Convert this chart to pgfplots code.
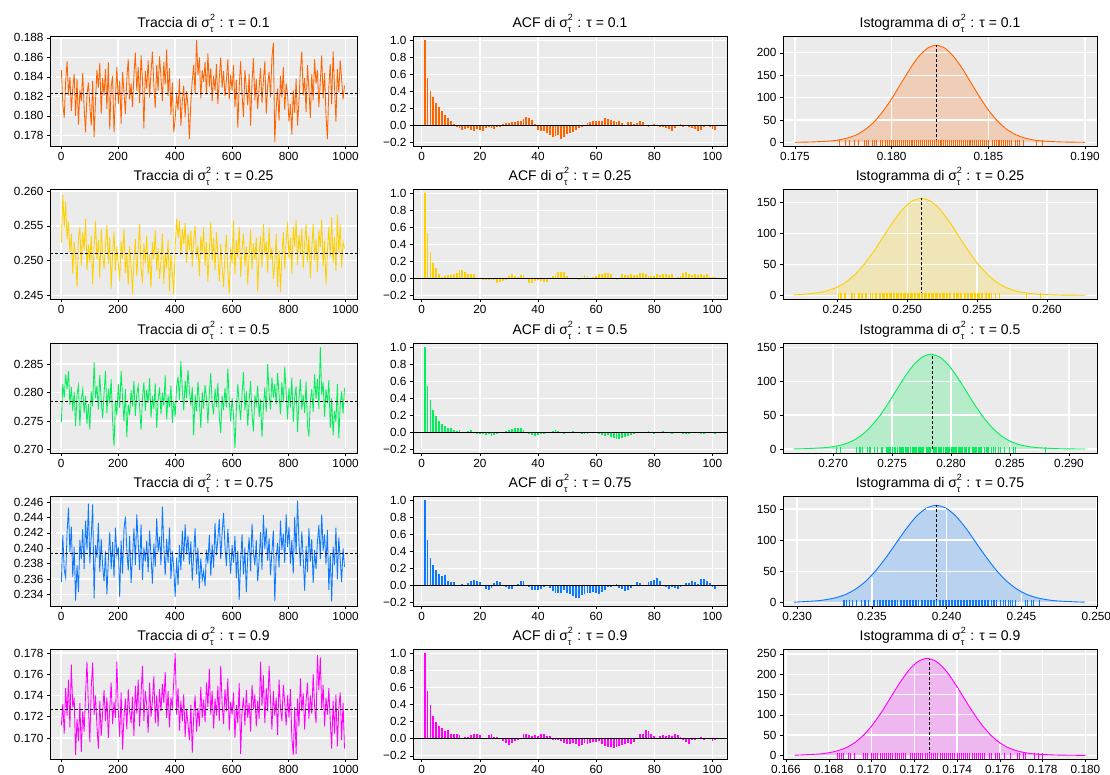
\documentclass[border=0pt]{standalone}
\usepackage{fontspec}
\setmainfont{Liberation Sans}
\usepackage{pgfplots}
\usepackage{pgfplotstable}
\pgfplotsset{compat=1.18}
\definecolor{bg}{HTML}{EBEBEB}
\definecolor{cO}{RGB}{255,100,0}
\definecolor{cY}{RGB}{255,208,0}
\definecolor{cG}{RGB}{0,240,90}
\definecolor{cB}{RGB}{10,120,255}
\definecolor{cM}{RGB}{255,0,255}
\newcommand{\sst}{σ\rlap{\raisebox{1ex}{\fontsize{9}{9}\selectfont 2}}\raisebox{-0.6ex}{\fontsize{9}{9}\selectfont τ}\hspace{2pt}}

% ---------- trace data (every 5th draw) ----------
\pgfplotstableread[row sep=\\]{
v\\
0.1847\\ 0.1812\\ 0.1798\\ 0.1835\\ 0.1856\\ 0.1821\\ 0.1840\\ 0.1805\\ 0.1829\\ 0.1843\\
0.1800\\ 0.1838\\ 0.1791\\ 0.1826\\ 0.1815\\ 0.1844\\ 0.1808\\ 0.1783\\ 0.1822\\ 0.1834\\
0.1811\\ 0.1790\\ 0.1836\\ 0.1778\\ 0.1816\\ 0.1847\\ 0.1829\\ 0.1854\\ 0.1802\\ 0.1839\\
0.1821\\ 0.1848\\ 0.1807\\ 0.1855\\ 0.1786\\ 0.1830\\ 0.1841\\ 0.1783\\ 0.1819\\ 0.1850\\
0.1812\\ 0.1836\\ 0.1792\\ 0.1845\\ 0.1824\\ 0.1802\\ 0.1838\\ 0.1858\\ 0.1817\\ 0.1833\\
0.1809\\ 0.1842\\ 0.1865\\ 0.1826\\ 0.1850\\ 0.1813\\ 0.1862\\ 0.1838\\ 0.1787\\ 0.1846\\
0.1828\\ 0.1857\\ 0.1819\\ 0.1845\\ 0.1866\\ 0.1831\\ 0.1808\\ 0.1852\\ 0.1826\\ 0.1861\\
0.1840\\ 0.1815\\ 0.1855\\ 0.1832\\ 0.1868\\ 0.1820\\ 0.1849\\ 0.1801\\ 0.1834\\ 0.1783\\
0.1797\\ 0.1822\\ 0.1806\\ 0.1838\\ 0.1790\\ 0.1815\\ 0.1831\\ 0.1799\\ 0.1825\\ 0.1810\\
0.1776\\ 0.1814\\ 0.1836\\ 0.1852\\ 0.1823\\ 0.1878\\ 0.1842\\ 0.1860\\ 0.1818\\ 0.1847\\
0.1835\\ 0.1855\\ 0.1822\\ 0.1864\\ 0.1830\\ 0.1849\\ 0.1815\\ 0.1841\\ 0.1826\\ 0.1853\\
0.1812\\ 0.1838\\ 0.1860\\ 0.1829\\ 0.1846\\ 0.1820\\ 0.1836\\ 0.1858\\ 0.1817\\ 0.1842\\
0.1826\\ 0.1852\\ 0.1809\\ 0.1837\\ 0.1788\\ 0.1830\\ 0.1856\\ 0.1822\\ 0.1799\\ 0.1847\\
0.1828\\ 0.1811\\ 0.1843\\ 0.1790\\ 0.1834\\ 0.1859\\ 0.1816\\ 0.1838\\ 0.1807\\ 0.1829\\
0.1849\\ 0.1813\\ 0.1836\\ 0.1856\\ 0.1802\\ 0.1831\\ 0.1845\\ 0.1819\\ 0.1860\\ 0.1875\\
0.1773\\ 0.1808\\ 0.1828\\ 0.1795\\ 0.1841\\ 0.1819\\ 0.1850\\ 0.1806\\ 0.1833\\ 0.1822\\
0.1794\\ 0.1812\\ 0.1781\\ 0.1826\\ 0.1803\\ 0.1838\\ 0.1790\\ 0.1815\\ 0.1847\\ 0.1866\\
0.1821\\ 0.1839\\ 0.1804\\ 0.1852\\ 0.1827\\ 0.1798\\ 0.1843\\ 0.1816\\ 0.1858\\ 0.1833\\
0.1847\\ 0.1809\\ 0.1835\\ 0.1862\\ 0.1818\\ 0.1844\\ 0.1801\\ 0.1776\\ 0.1829\\ 0.1853\\
0.1812\\ 0.1866\\ 0.1830\\ 0.1794\\ 0.1848\\ 0.1824\\ 0.1857\\ 0.1838\\ 0.1817\\ 0.1831\\
}\tA
\pgfplotstableread[row sep=\\]{
v\\
0.2526\\ 0.2595\\ 0.2548\\ 0.2585\\ 0.2531\\ 0.2556\\ 0.2512\\ 0.2538\\ 0.2481\\ 0.2527\\
0.2505\\ 0.2462\\ 0.2530\\ 0.2548\\ 0.2493\\ 0.2541\\ 0.2515\\ 0.2560\\ 0.2486\\ 0.2523\\
0.2498\\ 0.2536\\ 0.2466\\ 0.2519\\ 0.2557\\ 0.2502\\ 0.2530\\ 0.2475\\ 0.2546\\ 0.2511\\
0.2488\\ 0.2523\\ 0.2551\\ 0.2496\\ 0.2534\\ 0.2460\\ 0.2509\\ 0.2542\\ 0.2485\\ 0.2520\\
0.2495\\ 0.2471\\ 0.2528\\ 0.2503\\ 0.2546\\ 0.2482\\ 0.2510\\ 0.2465\\ 0.2521\\ 0.2493\\
0.2452\\ 0.2500\\ 0.2531\\ 0.2478\\ 0.2514\\ 0.2553\\ 0.2490\\ 0.2468\\ 0.2525\\ 0.2497\\
0.2536\\ 0.2481\\ 0.2509\\ 0.2461\\ 0.2527\\ 0.2502\\ 0.2544\\ 0.2486\\ 0.2518\\ 0.2474\\
0.2499\\ 0.2539\\ 0.2467\\ 0.2512\\ 0.2489\\ 0.2530\\ 0.2456\\ 0.2508\\ 0.2483\\ 0.2451\\
0.2520\\ 0.2560\\ 0.2533\\ 0.2557\\ 0.2508\\ 0.2546\\ 0.2524\\ 0.2554\\ 0.2497\\ 0.2538\\
0.2515\\ 0.2543\\ 0.2491\\ 0.2529\\ 0.2550\\ 0.2504\\ 0.2522\\ 0.2478\\ 0.2535\\ 0.2511\\
0.2548\\ 0.2493\\ 0.2527\\ 0.2470\\ 0.2515\\ 0.2556\\ 0.2499\\ 0.2533\\ 0.2486\\ 0.2541\\
0.2507\\ 0.2470\\ 0.2524\\ 0.2489\\ 0.2462\\ 0.2510\\ 0.2537\\ 0.2484\\ 0.2453\\ 0.2519\\
0.2496\\ 0.2558\\ 0.2480\\ 0.2529\\ 0.2505\\ 0.2549\\ 0.2477\\ 0.2516\\ 0.2539\\ 0.2492\\
0.2520\\ 0.2466\\ 0.2508\\ 0.2545\\ 0.2487\\ 0.2525\\ 0.2501\\ 0.2534\\ 0.2456\\ 0.2512\\
0.2535\\ 0.2490\\ 0.2553\\ 0.2509\\ 0.2528\\ 0.2483\\ 0.2547\\ 0.2502\\ 0.2519\\ 0.2474\\
0.2496\\ 0.2538\\ 0.2462\\ 0.2515\\ 0.2455\\ 0.2506\\ 0.2541\\ 0.2488\\ 0.2527\\ 0.2556\\
0.2503\\ 0.2533\\ 0.2481\\ 0.2549\\ 0.2520\\ 0.2558\\ 0.2494\\ 0.2537\\ 0.2511\\ 0.2546\\
0.2489\\ 0.2525\\ 0.2552\\ 0.2498\\ 0.2536\\ 0.2475\\ 0.2517\\ 0.2553\\ 0.2500\\ 0.2531\\
0.2484\\ 0.2544\\ 0.2519\\ 0.2559\\ 0.2492\\ 0.2528\\ 0.2466\\ 0.2513\\ 0.2549\\ 0.2505\\
0.2563\\ 0.2497\\ 0.2534\\ 0.2485\\ 0.2566\\ 0.2511\\ 0.2552\\ 0.2490\\ 0.2527\\ 0.2518\\
}\tB
\pgfplotstableread[row sep=\\]{
v\\
0.2748\\ 0.2815\\ 0.2791\\ 0.2832\\ 0.2806\\ 0.2838\\ 0.2779\\ 0.2810\\ 0.2768\\ 0.2801\\
0.2741\\ 0.2797\\ 0.2812\\ 0.2742\\ 0.2789\\ 0.2806\\ 0.2764\\ 0.2794\\ 0.2745\\ 0.2780\\
0.2735\\ 0.2802\\ 0.2776\\ 0.2853\\ 0.2790\\ 0.2812\\ 0.2770\\ 0.2831\\ 0.2785\\ 0.2755\\
0.2799\\ 0.2838\\ 0.2764\\ 0.2807\\ 0.2781\\ 0.2823\\ 0.2752\\ 0.2706\\ 0.2786\\ 0.2760\\
0.2815\\ 0.2773\\ 0.2838\\ 0.2791\\ 0.2749\\ 0.2806\\ 0.2722\\ 0.2779\\ 0.2761\\ 0.2804\\
0.2776\\ 0.2820\\ 0.2759\\ 0.2797\\ 0.2812\\ 0.2773\\ 0.2735\\ 0.2791\\ 0.2818\\ 0.2768\\
0.2805\\ 0.2782\\ 0.2825\\ 0.2756\\ 0.2794\\ 0.2771\\ 0.2816\\ 0.2738\\ 0.2788\\ 0.2809\\
0.2762\\ 0.2800\\ 0.2777\\ 0.2830\\ 0.2753\\ 0.2795\\ 0.2774\\ 0.2812\\ 0.2747\\ 0.2786\\
0.2758\\ 0.2810\\ 0.2828\\ 0.2787\\ 0.2855\\ 0.2804\\ 0.2769\\ 0.2821\\ 0.2790\\ 0.2840\\
0.2803\\ 0.2777\\ 0.2810\\ 0.2725\\ 0.2796\\ 0.2767\\ 0.2819\\ 0.2785\\ 0.2738\\ 0.2801\\
0.2772\\ 0.2813\\ 0.2790\\ 0.2746\\ 0.2798\\ 0.2834\\ 0.2781\\ 0.2762\\ 0.2807\\ 0.2775\\
0.2816\\ 0.2758\\ 0.2729\\ 0.2794\\ 0.2769\\ 0.2808\\ 0.2774\\ 0.2842\\ 0.2785\\ 0.2750\\
0.2790\\ 0.2760\\ 0.2703\\ 0.2771\\ 0.2815\\ 0.2780\\ 0.2752\\ 0.2797\\ 0.2836\\ 0.2769\\
0.2802\\ 0.2741\\ 0.2786\\ 0.2820\\ 0.2763\\ 0.2732\\ 0.2795\\ 0.2779\\ 0.2812\\ 0.2757\\
0.2788\\ 0.2722\\ 0.2773\\ 0.2809\\ 0.2766\\ 0.2850\\ 0.2798\\ 0.2770\\ 0.2826\\ 0.2791\\
0.2815\\ 0.2779\\ 0.2834\\ 0.2796\\ 0.2762\\ 0.2818\\ 0.2783\\ 0.2845\\ 0.2799\\ 0.2753\\
0.2808\\ 0.2774\\ 0.2826\\ 0.2748\\ 0.2792\\ 0.2811\\ 0.2731\\ 0.2787\\ 0.2823\\ 0.2770\\
0.2796\\ 0.2764\\ 0.2819\\ 0.2742\\ 0.2723\\ 0.2785\\ 0.2806\\ 0.2766\\ 0.2832\\ 0.2789\\
0.2824\\ 0.2771\\ 0.2880\\ 0.2796\\ 0.2818\\ 0.2758\\ 0.2806\\ 0.2781\\ 0.2822\\ 0.2738\\
0.2790\\ 0.2725\\ 0.2768\\ 0.2748\\ 0.2815\\ 0.2720\\ 0.2777\\ 0.2802\\ 0.2763\\ 0.2808\\
}\tC
\pgfplotstableread[row sep=\\]{
v\\
0.2356\\ 0.2417\\ 0.2372\\ 0.2362\\ 0.2420\\ 0.2453\\ 0.2395\\ 0.2428\\ 0.2363\\ 0.2402\\
0.2332\\ 0.2378\\ 0.2343\\ 0.2411\\ 0.2386\\ 0.2425\\ 0.2373\\ 0.2436\\ 0.2398\\ 0.2458\\
0.2380\\ 0.2416\\ 0.2457\\ 0.2335\\ 0.2404\\ 0.2388\\ 0.2433\\ 0.2369\\ 0.2412\\ 0.2377\\
0.2357\\ 0.2396\\ 0.2340\\ 0.2385\\ 0.2421\\ 0.2373\\ 0.2408\\ 0.2362\\ 0.2427\\ 0.2391\\
0.2402\\ 0.2337\\ 0.2410\\ 0.2367\\ 0.2425\\ 0.2441\\ 0.2398\\ 0.2371\\ 0.2416\\ 0.2355\\
0.2389\\ 0.2426\\ 0.2378\\ 0.2444\\ 0.2407\\ 0.2372\\ 0.2431\\ 0.2359\\ 0.2401\\ 0.2383\\
0.2410\\ 0.2369\\ 0.2423\\ 0.2390\\ 0.2354\\ 0.2406\\ 0.2376\\ 0.2439\\ 0.2395\\ 0.2415\\
0.2378\\ 0.2454\\ 0.2403\\ 0.2365\\ 0.2412\\ 0.2381\\ 0.2427\\ 0.2360\\ 0.2396\\ 0.2374\\
0.2337\\ 0.2388\\ 0.2352\\ 0.2404\\ 0.2372\\ 0.2423\\ 0.2383\\ 0.2431\\ 0.2392\\ 0.2416\\
0.2379\\ 0.2409\\ 0.2358\\ 0.2393\\ 0.2426\\ 0.2366\\ 0.2401\\ 0.2348\\ 0.2387\\ 0.2359\\
0.2370\\ 0.2351\\ 0.2398\\ 0.2380\\ 0.2417\\ 0.2364\\ 0.2405\\ 0.2375\\ 0.2433\\ 0.2391\\
0.2412\\ 0.2438\\ 0.2386\\ 0.2420\\ 0.2446\\ 0.2402\\ 0.2377\\ 0.2425\\ 0.2395\\ 0.2367\\
0.2404\\ 0.2381\\ 0.2416\\ 0.2361\\ 0.2397\\ 0.2333\\ 0.2383\\ 0.2418\\ 0.2366\\ 0.2401\\
0.2343\\ 0.2390\\ 0.2414\\ 0.2370\\ 0.2432\\ 0.2395\\ 0.2378\\ 0.2411\\ 0.2357\\ 0.2385\\
0.2421\\ 0.2372\\ 0.2443\\ 0.2399\\ 0.2427\\ 0.2384\\ 0.2413\\ 0.2365\\ 0.2396\\ 0.2423\\
0.2331\\ 0.2389\\ 0.2407\\ 0.2375\\ 0.2436\\ 0.2398\\ 0.2419\\ 0.2381\\ 0.2444\\ 0.2402\\
0.2428\\ 0.2380\\ 0.2411\\ 0.2367\\ 0.2441\\ 0.2393\\ 0.2462\\ 0.2408\\ 0.2377\\ 0.2422\\
0.2388\\ 0.2345\\ 0.2403\\ 0.2369\\ 0.2426\\ 0.2383\\ 0.2412\\ 0.2355\\ 0.2398\\ 0.2373\\
0.2409\\ 0.2430\\ 0.2386\\ 0.2444\\ 0.2397\\ 0.2418\\ 0.2379\\ 0.2424\\ 0.2346\\ 0.2392\\
0.2331\\ 0.2402\\ 0.2378\\ 0.2427\\ 0.2360\\ 0.2414\\ 0.2385\\ 0.2356\\ 0.2400\\ 0.2376\\
}\tD
\pgfplotstableread[row sep=\\]{
v\\
0.1712\\ 0.1732\\ 0.1704\\ 0.1747\\ 0.1721\\ 0.1755\\ 0.1710\\ 0.1769\\ 0.1729\\ 0.1738\\
0.1684\\ 0.1718\\ 0.1697\\ 0.1733\\ 0.1687\\ 0.1725\\ 0.1706\\ 0.1741\\ 0.1772\\ 0.1730\\
0.1696\\ 0.1748\\ 0.1771\\ 0.1722\\ 0.1740\\ 0.1711\\ 0.1690\\ 0.1735\\ 0.1702\\ 0.1724\\
0.1745\\ 0.1716\\ 0.1738\\ 0.1700\\ 0.1728\\ 0.1752\\ 0.1713\\ 0.1734\\ 0.1719\\ 0.1772\\
0.1726\\ 0.1701\\ 0.1743\\ 0.1689\\ 0.1720\\ 0.1737\\ 0.1708\\ 0.1746\\ 0.1725\\ 0.1714\\
0.1739\\ 0.1702\\ 0.1749\\ 0.1723\\ 0.1755\\ 0.1711\\ 0.1741\\ 0.1768\\ 0.1716\\ 0.1744\\
0.1731\\ 0.1705\\ 0.1752\\ 0.1720\\ 0.1735\\ 0.1758\\ 0.1714\\ 0.1740\\ 0.1711\\ 0.1746\\
0.1725\\ 0.1751\\ 0.1733\\ 0.1762\\ 0.1719\\ 0.1744\\ 0.1710\\ 0.1738\\ 0.1729\\ 0.1753\\
0.1780\\ 0.1722\\ 0.1747\\ 0.1707\\ 0.1735\\ 0.1716\\ 0.1741\\ 0.1701\\ 0.1727\\ 0.1713\\
0.1698\\ 0.1731\\ 0.1686\\ 0.1720\\ 0.1740\\ 0.1706\\ 0.1728\\ 0.1711\\ 0.1748\\ 0.1719\\
0.1736\\ 0.1715\\ 0.1752\\ 0.1729\\ 0.1765\\ 0.1722\\ 0.1744\\ 0.1709\\ 0.1737\\ 0.1721\\
0.1749\\ 0.1716\\ 0.1768\\ 0.1732\\ 0.1713\\ 0.1746\\ 0.1725\\ 0.1756\\ 0.1707\\ 0.1734\\
0.1722\\ 0.1743\\ 0.1700\\ 0.1731\\ 0.1714\\ 0.1752\\ 0.1685\\ 0.1726\\ 0.1738\\ 0.1712\\
0.1745\\ 0.1719\\ 0.1733\\ 0.1706\\ 0.1750\\ 0.1727\\ 0.1741\\ 0.1711\\ 0.1735\\ 0.1718\\
0.1772\\ 0.1730\\ 0.1759\\ 0.1714\\ 0.1747\\ 0.1725\\ 0.1768\\ 0.1736\\ 0.1708\\ 0.1744\\
0.1721\\ 0.1738\\ 0.1703\\ 0.1755\\ 0.1729\\ 0.1716\\ 0.1750\\ 0.1733\\ 0.1712\\ 0.1740\\
0.1719\\ 0.1746\\ 0.1700\\ 0.1684\\ 0.1729\\ 0.1685\\ 0.1737\\ 0.1711\\ 0.1756\\ 0.1725\\
0.1742\\ 0.1708\\ 0.1735\\ 0.1752\\ 0.1718\\ 0.1740\\ 0.1723\\ 0.1760\\ 0.1730\\ 0.1714\\
0.1778\\ 0.1745\\ 0.1776\\ 0.1727\\ 0.1750\\ 0.1711\\ 0.1738\\ 0.1722\\ 0.1747\\ 0.1716\\
0.1690\\ 0.1735\\ 0.1704\\ 0.1741\\ 0.1692\\ 0.1728\\ 0.1743\\ 0.1698\\ 0.1733\\ 0.1690\\
}\tE

% ---------- ACF data (lags 0..100) ----------
\pgfplotstableread[row sep=\\]{
v\\
1.00\\ 0.56\\ 0.40\\ 0.33\\ 0.27\\ 0.22\\ 0.17\\ 0.12\\ 0.09\\ 0.05\\ 0.02\\
-0.01\\ -0.03\\ -0.05\\ -0.04\\ -0.03\\ -0.05\\ -0.06\\ -0.04\\ -0.05\\ -0.06\\
-0.03\\ -0.02\\ -0.03\\ -0.04\\ -0.02\\ -0.01\\ 0.02\\ 0.03\\ 0.03\\ 0.04\\
0.04\\ 0.06\\ 0.06\\ 0.08\\ 0.10\\ 0.09\\ 0.07\\ 0.02\\ -0.05\\ -0.06\\
-0.06\\ -0.09\\ -0.11\\ -0.13\\ -0.12\\ -0.11\\ -0.16\\ -0.13\\ -0.10\\ -0.09\\
-0.07\\ -0.05\\ -0.03\\ -0.02\\ 0.00\\ 0.03\\ 0.04\\ 0.05\\ 0.06\\ 0.05\\
0.05\\ 0.09\\ 0.08\\ 0.07\\ 0.06\\ 0.04\\ 0.05\\ 0.03\\ 0.01\\ 0.04\\
0.04\\ 0.02\\ 0.03\\ 0.05\\ 0.04\\ 0.00\\ -0.02\\ 0.01\\ 0.02\\ 0.01\\
-0.01\\ -0.02\\ -0.03\\ -0.04\\ -0.06\\ -0.03\\ 0.00\\ 0.02\\ -0.02\\ 0.00\\
-0.01\\ -0.03\\ -0.04\\ -0.06\\ -0.05\\ -0.02\\ 0.00\\ -0.02\\ -0.04\\ -0.05\\
}\aA
\pgfplotstableread[row sep=\\]{
v\\
1.00\\ 0.54\\ 0.31\\ 0.18\\ 0.13\\ 0.05\\ 0.02\\ 0.03\\ 0.04\\ 0.04\\ 0.06\\
0.07\\ 0.10\\ 0.10\\ 0.08\\ 0.05\\ 0.05\\ 0.06\\ 0.01\\ 0.00\\ -0.02\\
-0.02\\ -0.01\\ -0.01\\ -0.02\\ -0.05\\ -0.04\\ -0.03\\ -0.02\\ 0.03\\ 0.05\\
0.03\\ 0.02\\ 0.04\\ 0.04\\ 0.00\\ -0.05\\ -0.05\\ -0.03\\ -0.02\\ -0.03\\
-0.04\\ -0.04\\ 0.00\\ 0.03\\ 0.04\\ 0.08\\ 0.08\\ 0.08\\ 0.03\\ 0.01\\
0.00\\ 0.00\\ -0.02\\ 0.01\\ 0.04\\ 0.03\\ 0.00\\ 0.02\\ 0.03\\ 0.05\\
0.06\\ 0.07\\ 0.07\\ 0.05\\ 0.00\\ -0.01\\ 0.01\\ 0.05\\ 0.04\\ 0.04\\
0.05\\ 0.04\\ 0.04\\ 0.07\\ 0.07\\ 0.06\\ 0.03\\ 0.03\\ 0.03\\ 0.05\\
0.04\\ 0.06\\ 0.05\\ 0.04\\ 0.06\\ 0.01\\ 0.02\\ 0.03\\ 0.07\\ 0.08\\
0.06\\ 0.04\\ 0.05\\ 0.04\\ 0.05\\ 0.04\\ 0.06\\ 0.02\\ 0.02\\ 0.02\\
}\aB
\pgfplotstableread[row sep=\\]{
v\\
1.00\\ 0.55\\ 0.38\\ 0.27\\ 0.19\\ 0.14\\ 0.10\\ 0.08\\ 0.06\\ 0.05\\ 0.03\\
0.02\\ 0.03\\ 0.01\\ 0.00\\ 0.02\\ 0.03\\ 0.01\\ -0.01\\ -0.02\\ -0.02\\
-0.03\\ -0.02\\ -0.04\\ -0.03\\ -0.01\\ 0.00\\ 0.01\\ 0.02\\ 0.03\\ 0.04\\
0.05\\ 0.06\\ 0.05\\ 0.03\\ 0.01\\ -0.02\\ -0.03\\ -0.04\\ -0.03\\ -0.02\\
-0.01\\ 0.00\\ 0.01\\ 0.02\\ 0.03\\ 0.02\\ 0.01\\ -0.01\\ 0.00\\ 0.01\\
0.02\\ 0.01\\ 0.00\\ -0.01\\ -0.02\\ -0.01\\ 0.00\\ 0.01\\ 0.00\\ -0.02\\
-0.03\\ -0.04\\ -0.03\\ -0.05\\ -0.06\\ -0.07\\ -0.08\\ -0.06\\ -0.05\\ -0.04\\
-0.03\\ -0.01\\ 0.00\\ 0.01\\ 0.00\\ 0.01\\ 0.02\\ 0.00\\ -0.01\\ 0.00\\
0.01\\ 0.02\\ 0.01\\ 0.00\\ -0.01\\ 0.00\\ 0.01\\ 0.00\\ -0.01\\ -0.02\\
-0.01\\ 0.00\\ 0.01\\ 0.00\\ -0.01\\ -0.01\\ 0.00\\ 0.01\\ 0.00\\ -0.01\\
}\aC
\pgfplotstableread[row sep=\\]{
v\\
1.00\\ 0.54\\ 0.32\\ 0.24\\ 0.18\\ 0.14\\ 0.11\\ 0.13\\ 0.06\\ 0.04\\ 0.04\\
0.01\\ 0.01\\ 0.02\\ 0.01\\ 0.03\\ 0.06\\ 0.07\\ 0.05\\ 0.04\\ 0.00\\
-0.04\\ -0.05\\ -0.03\\ 0.03\\ 0.05\\ 0.04\\ 0.01\\ -0.01\\ -0.04\\ -0.04\\
0.01\\ 0.02\\ 0.05\\ 0.05\\ 0.00\\ -0.02\\ -0.05\\ -0.05\\ -0.05\\ -0.04\\
-0.01\\ 0.00\\ -0.03\\ -0.06\\ -0.08\\ -0.09\\ -0.09\\ -0.05\\ -0.08\\ -0.10\\
-0.12\\ -0.14\\ -0.14\\ -0.11\\ -0.10\\ -0.09\\ -0.09\\ -0.07\\ -0.08\\ -0.10\\
-0.07\\ -0.05\\ -0.01\\ -0.02\\ 0.00\\ 0.02\\ -0.03\\ -0.04\\ -0.06\\ -0.05\\
-0.03\\ 0.00\\ 0.04\\ 0.03\\ 0.01\\ 0.01\\ 0.04\\ 0.06\\ 0.07\\ 0.09\\
0.05\\ 0.00\\ -0.02\\ -0.04\\ -0.02\\ -0.03\\ -0.04\\ -0.02\\ 0.00\\ 0.03\\
0.03\\ 0.06\\ 0.04\\ 0.02\\ 0.08\\ 0.08\\ 0.06\\ 0.03\\ -0.02\\ -0.04\\
}\aD
\pgfplotstableread[row sep=\\]{
v\\
1.00\\ 0.56\\ 0.40\\ 0.27\\ 0.19\\ 0.15\\ 0.13\\ 0.09\\ 0.10\\ 0.06\\ 0.06\\
0.05\\ 0.04\\ 0.01\\ 0.02\\ 0.02\\ 0.04\\ 0.06\\ 0.05\\ 0.04\\ 0.01\\
0.01\\ 0.04\\ 0.05\\ 0.02\\ 0.02\\ 0.00\\ -0.03\\ -0.05\\ -0.07\\ -0.05\\
-0.03\\ -0.02\\ 0.00\\ 0.06\\ 0.06\\ 0.04\\ 0.03\\ 0.04\\ 0.03\\ 0.06\\
0.05\\ 0.03\\ 0.03\\ -0.01\\ -0.01\\ -0.02\\ -0.03\\ -0.05\\ -0.06\\ -0.06\\
-0.05\\ -0.06\\ -0.09\\ -0.07\\ -0.05\\ -0.06\\ -0.05\\ -0.04\\ -0.04\\ -0.03\\
-0.06\\ -0.09\\ -0.10\\ -0.10\\ -0.11\\ -0.10\\ -0.08\\ -0.07\\ -0.06\\ -0.05\\
-0.06\\ -0.04\\ 0.01\\ 0.06\\ 0.05\\ 0.10\\ 0.09\\ 0.06\\ 0.03\\ 0.01\\
0.03\\ 0.04\\ 0.03\\ 0.04\\ 0.03\\ 0.05\\ 0.04\\ 0.02\\ -0.01\\ -0.04\\
-0.06\\ -0.02\\ -0.01\\ 0.00\\ 0.02\\ -0.01\\ 0.01\\ 0.00\\ -0.03\\ -0.02\\
}\aE

\pgfplotsset{
  base/.style={scale only axis, height=110pt, anchor=south west,
    axis background/.style={fill=bg},
    xmajorgrids, ymajorgrids,
    major grid style={white, line width=1.3pt},
    axis line style={black, line width=0.8pt},
    every tick/.style={black, line width=0.5pt},
    tick align=outside, major tick length=3pt,
    xtick pos=left, ytick pos=left,
    tick label style={font=\fontsize{11.8}{13}\selectfont, inner sep=1pt},
    xticklabel style={yshift=-2.3pt},
    yticklabel style={xshift=-2.3pt},
    title style={font=\fontsize{14}{16}\selectfont, inner sep=1pt, yshift=-3.7pt},
  },
  tr/.style={base, width=307pt, xmin=-39, xmax=1040,
    xtick={0,200,400,600,800,1000}, xticklabels={0,200,400,600,800,1000}},
  ac/.style={base, width=314pt, xmin=-3, xmax=105, ymin=-0.238, ymax=1.05,
    xtick={0,20,40,60,80,100}, xticklabels={0,20,40,60,80,100},
    ytick={-0.2,0,0.2,0.4,0.6,0.8,1.0},
    yticklabels={−0.2,0.0,0.2,0.4,0.6,0.8,1.0}},
  hi/.style={base, width=314pt},
  trline/.style={line width=0.85pt},
  mline/.style={black, line width=0.7pt, dash pattern=on 3pt off 2pt},
  acbar/.style={ycomb, line width=1.9pt},
  zline/.style={black, line width=0.7pt},
  dens/.style={line width=0.9pt, smooth, tension=0.4},
  gv/.style={white, line width=1.3pt, ycomb},
  gh/.style={white, line width=1.3pt, unbounded coords=jump},
  rug/.style={only marks, mark=|, mark size=3pt, color=#1, mark options={draw=#1, line width=1pt}},
}

\begin{document}
\begin{tikzpicture}
\path[use as bounding box] (0,0) rectangle (1110pt,775pt);

% ================= ROW 1: tau = 0.1 =================
\begin{axis}[tr, at={(50pt,629pt)}, ymin=0.1769, ymax=0.1882,
  ytick={0.178,0.180,0.182,0.184,0.186,0.188},
  yticklabels={0.178,0.180,0.182,0.184,0.186,0.188},
  title={Traccia di \sst{} : τ = 0.1}]
\addplot[cO, trline] table[x expr=\coordindex*5+1, y=v] \tA;
\addplot[mline] coordinates {(-39,0.1823) (1040,0.1823)};
\end{axis}
\begin{axis}[ac, at={(413pt,629pt)}, title={ACF di \sst{} : τ = 0.1}]
\addplot[cO, acbar] table[x expr=\coordindex+1, y=v] \aA;
\addplot[zline] coordinates {(-3,0) (105,0)};
\end{axis}
\begin{axis}[hi, at={(783pt,629pt)}, xmin=0.17438, xmax=0.19062, ymin=-8.2, ymax=237.6,
  xtick={0.175,0.180,0.185,0.190}, xticklabels={0.175,0.180,0.185,0.190},
  ytick={0,50,100,150,200}, yticklabels={0,50,100,150,200},
  title={Istogramma di \sst{} : τ = 0.1}]
\addplot[cO, fill=cO!22!bg, dens] coordinates {(0.1750,0)(0.17593,0.9)(0.17684,3.0)(0.17730,5.6)(0.17775,10.0)(0.17821,17.4)(0.17866,29.4)(0.17912,46.9)(0.17957,70.5)(0.18003,99.3)(0.18048,131.6)(0.18094,163.8)(0.18139,191.5)(0.18185,210.3)(0.18230,217)(0.18276,210.3)(0.18321,191.5)(0.18367,163.8)(0.18412,131.6)(0.18458,99.3)(0.18503,70.5)(0.18549,46.9)(0.18594,29.4)(0.18640,17.4)(0.18685,10.0)(0.18731,5.6)(0.18776,3.0)(0.18867,0.9)(0.18958,0.2)(0.1900,0)};
\addplot[gv] coordinates {(0.180,95) (0.185,69)};
\addplot[gh] coordinates {(0.17926,50)(0.18534,50)(nan,nan)(0.18012,100)(0.18448,100)(nan,nan)(0.18082,150)(0.18378,150)(nan,nan)(0.18165,200)(0.18295,200)};
\addplot[rug=cO] table[x=v, y=v, y expr=-1.5] \tA;
\addplot[mline] coordinates {(0.1823,0) (0.1823,217)};
\end{axis}

% ================= ROW 2: tau = 0.25 =================
\begin{axis}[tr, at={(50pt,476pt)}, ymin=0.2445, ymax=0.2603,
  ytick={0.245,0.250,0.255,0.260}, yticklabels={0.245,0.250,0.255,0.260},
  title={Traccia di \sst{} : τ = 0.25}]
\addplot[cY, trline] table[x expr=\coordindex*5+1, y=v] \tB;
\addplot[mline] coordinates {(-39,0.2511) (1040,0.2511)};
\end{axis}
\begin{axis}[ac, at={(413pt,476pt)}, title={ACF di \sst{} : τ = 0.25}]
\addplot[cY, acbar] table[x expr=\coordindex+1, y=v] \aB;
\addplot[zline] coordinates {(-3,0) (105,0)};
\end{axis}
\begin{axis}[hi, at={(783pt,476pt)}, xmin=0.24111, xmax=0.26358, ymin=-6, ymax=172,
  xtick={0.245,0.250,0.255,0.260}, xticklabels={0.245,0.250,0.255,0.260},
  ytick={0,50,100,150}, yticklabels={0,50,100,150},
  title={Istogramma di \sst{} : τ = 0.25}]
\addplot[cY, fill=cY!22!bg, dens] coordinates {(0.2419,0.5)(0.2429,2.2)(0.24358,4.1)(0.24425,7.2)(0.24493,12.6)(0.24560,21.2)(0.24628,34.0)(0.24695,51.0)(0.24763,71.9)(0.24830,95.2)(0.24898,118.5)(0.24965,138.6)(0.25033,152.2)(0.25100,157)(0.25168,152.2)(0.25235,138.6)(0.25303,118.5)(0.25370,95.2)(0.25438,71.9)(0.25505,51.0)(0.25573,34.0)(0.25640,21.2)(0.25708,12.6)(0.25775,7.2)(0.25843,4.1)(0.25910,2.2)(0.26045,0.6)(0.26180,0.2)(0.26275,0)};
\addplot[gv] coordinates {(0.245,11) (0.250,144) (0.255,50)};
\addplot[gh] coordinates {(0.24703,50)(0.25497,50)(nan,nan)(0.24855,100)(0.25345,100)(nan,nan)(0.2503,150)(0.2517,150)};
\addplot[rug=cY] table[x=v, y=v, y expr=-1.1] \tB;
\addplot[mline] coordinates {(0.2510,0) (0.2510,157)};
\end{axis}

% ================= ROW 3: tau = 0.5 =================
\begin{axis}[tr, at={(50pt,322pt)}, ymin=0.2694, ymax=0.2887,
  ytick={0.270,0.275,0.280,0.285}, yticklabels={0.270,0.275,0.280,0.285},
  title={Traccia di \sst{} : τ = 0.5}]
\addplot[cG, trline] table[x expr=\coordindex*5+1, y=v] \tC;
\addplot[mline] coordinates {(-39,0.2784) (1040,0.2784)};
\end{axis}
\begin{axis}[ac, at={(413pt,322pt)}, title={ACF di \sst{} : τ = 0.5}]
\addplot[cG, acbar] table[x expr=\coordindex+1, y=v] \aC;
\addplot[zline] coordinates {(-3,0) (105,0)};
\end{axis}
\begin{axis}[hi, at={(783pt,322pt)}, xmin=0.26575, xmax=0.29238, ymin=-5.9, ymax=156.5,
  xtick={0.270,0.275,0.280,0.285,0.290}, xticklabels={0.270,0.275,0.280,0.285,0.290},
  ytick={0,50,100,150}, yticklabels={0,50,100,150},
  title={Istogramma di \sst{} : τ = 0.5}]
\addplot[cG, fill=cG!22!bg, dens] coordinates {(0.2667,0.1)(0.2678,0.6)(0.2693,2.0)(0.27005,3.6)(0.27080,6.4)(0.27155,11.2)(0.27230,18.9)(0.27305,30.3)(0.27380,45.5)(0.27455,64.1)(0.27530,84.9)(0.27605,105.7)(0.27680,123.6)(0.27755,135.7)(0.27830,140)(0.27905,135.7)(0.27980,123.6)(0.28055,105.7)(0.28130,84.9)(0.28205,64.1)(0.28280,45.5)(0.28355,30.3)(0.28430,18.9)(0.28505,11.2)(0.28580,6.4)(0.28655,3.6)(0.28730,2.0)(0.28880,0.6)(0.29030,0.1)(0.2914,0)};
\addplot[gv] coordinates {(0.275,74) (0.280,117) (0.285,9)};
\addplot[gh] coordinates {(0.27413,50)(0.28248,50)(nan,nan)(0.27597,100)(0.28063,100)};
\addplot[rug=cG] table[x=v, y=v, y expr=-1.5] \tC;
\addplot[mline] coordinates {(0.2784,0) (0.2784,140)};
\end{axis}

% ================= ROW 4: tau = 0.75 =================
\begin{axis}[tr, at={(50pt,169pt)}, ymin=0.2325, ymax=0.2468,
  ytick={0.234,0.236,0.238,0.240,0.242,0.244,0.246},
  yticklabels={0.234,0.236,0.238,0.240,0.242,0.244,0.246},
  title={Traccia di \sst{} : τ = 0.75}]
\addplot[cB, trline] table[x expr=\coordindex*5+1, y=v] \tD;
\addplot[mline] coordinates {(-39,0.2393) (1040,0.2393)};
\end{axis}
\begin{axis}[ac, at={(413pt,169pt)}, title={ACF di \sst{} : τ = 0.75}]
\addplot[cB, acbar] table[x expr=\coordindex+1, y=v] \aD;
\addplot[zline] coordinates {(-3,0) (105,0)};
\end{axis}
\begin{axis}[hi, at={(783pt,169pt)}, xmin=0.22906, xmax=0.25005, ymin=-5.9, ymax=171,
  xtick={0.230,0.235,0.240,0.245,0.250}, xticklabels={0.230,0.235,0.240,0.245,0.250},
  ytick={0,50,100,150}, yticklabels={0,50,100,150},
  title={Istogramma di \sst{} : τ = 0.75}]
\addplot[cB, fill=cB!22!bg, dens] coordinates {(0.2298,0.3)(0.2312,2.2)(0.23188,4.1)(0.23255,7.2)(0.23323,12.5)(0.23390,21.1)(0.23458,33.7)(0.23525,50.7)(0.23593,71.4)(0.23660,94.6)(0.23728,117.7)(0.23795,137.7)(0.23863,151.2)(0.23930,156)(0.23998,151.2)(0.24065,137.7)(0.24133,117.7)(0.24200,94.6)(0.24268,71.4)(0.24335,50.7)(0.24403,33.7)(0.24470,21.1)(0.24538,12.5)(0.24605,7.2)(0.24673,4.1)(0.24740,2.2)(0.24875,0.6)(0.24922,0.3)};
\addplot[gv] coordinates {(0.235,41) (0.240,148) (0.245,14)};
\addplot[gh] coordinates {(0.23533,50)(0.24327,50)(nan,nan)(0.23685,100)(0.24175,100)(nan,nan)(0.23864,150)(0.23996,150)};
\addplot[rug=cB] table[x=v, y=v, y expr=-1.1] \tD;
\addplot[mline] coordinates {(0.2393,0) (0.2393,156)};
\end{axis}

% ================= ROW 5: tau = 0.9 =================
\begin{axis}[tr, at={(50pt,16pt)}, ymin=0.16802, ymax=0.17838,
  ytick={0.170,0.172,0.174,0.176,0.178},
  yticklabels={0.170,0.172,0.174,0.176,0.178},
  title={Traccia di \sst{} : τ = 0.9}]
\addplot[cM, trline] table[x expr=\coordindex*5+1, y=v] \tE;
\addplot[mline] coordinates {(-39,0.1727) (1040,0.1727)};
\end{axis}
\begin{axis}[ac, at={(413pt,16pt)}, title={ACF di \sst{} : τ = 0.9}]
\addplot[cM, acbar] table[x expr=\coordindex+1, y=v] \aE;
\addplot[zline] coordinates {(-3,0) (105,0)};
\end{axis}
\begin{axis}[hi, at={(783pt,16pt)}, xmin=0.16586, xmax=0.18054, ymin=-9, ymax=262,
  xtick={0.166,0.168,0.170,0.172,0.174,0.176,0.178,0.180},
  xticklabels={0.166,0.168,0.170,0.172,0.174,0.176,0.178,0.180},
  ytick={0,50,100,150,200,250}, yticklabels={0,50,100,150,200,250},
  title={Istogramma di \sst{} : τ = 0.9}]
\addplot[cM, fill=cM!22!bg, dens] coordinates {(0.1664,0.3)(0.16672,1.0)(0.16756,3.3)(0.16798,6.2)(0.16840,11.0)(0.16882,19.1)(0.16924,32.3)(0.16966,51.7)(0.17008,77.6)(0.17050,109.4)(0.17092,145.0)(0.17134,180.4)(0.17176,210.9)(0.17218,231.6)(0.17260,239)(0.17302,231.6)(0.17344,210.9)(0.17386,180.4)(0.17428,145.0)(0.17470,109.4)(0.17512,77.6)(0.17554,51.7)(0.17596,32.3)(0.17638,19.1)(0.17680,11.0)(0.17722,6.2)(0.17764,3.3)(0.17848,1.0)(0.17932,0.2)(0.1800,0)};
\addplot[gv] coordinates {(0.170,68) (0.172,220) (0.174,165) (0.176,27)};
\addplot[gh] coordinates {(0.1697,50)(0.1755,50)(nan,nan)(0.17045,100)(0.17475,100)(nan,nan)(0.17105,150)(0.17415,150)(nan,nan)(0.17167,200)(0.17353,200)};
\addplot[rug=cM] table[x=v, y=v, y expr=-1.6] \tE;
\addplot[mline] coordinates {(0.1727,0) (0.1727,238)};
\end{axis}
\end{tikzpicture}
\end{document}
